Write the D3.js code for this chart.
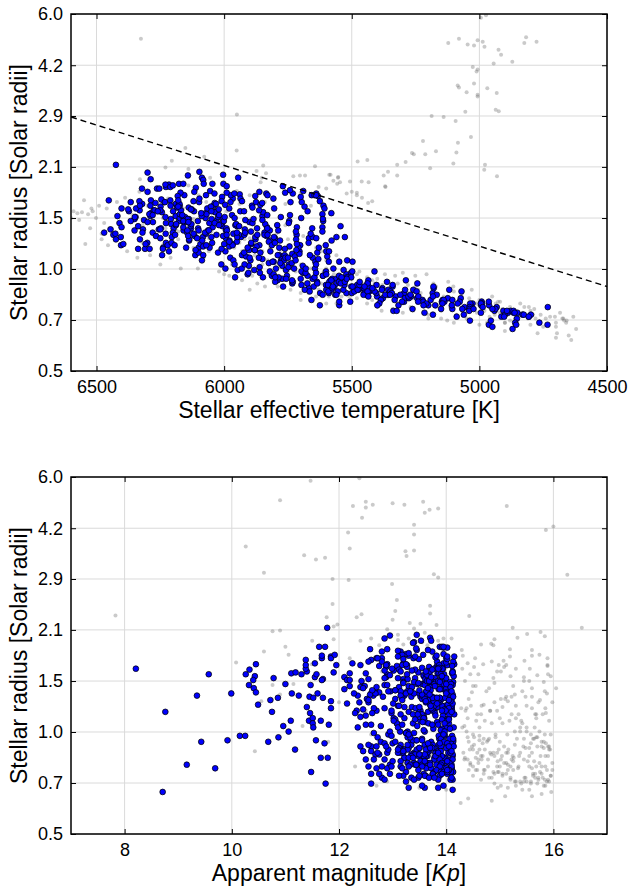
<!DOCTYPE html>
<html>
<head>
  <meta charset="utf-8">
  <style>
    html, body { margin: 0; overflow: hidden; background: #fff; }
    svg { display: block; }
    text { font-family: "Liberation Sans", Arial, Helvetica, sans-serif; fill: #000; }
    .grid line { stroke: #dadada; stroke-width: 1; }
    .gray circle { fill: #666; fill-opacity: 0.35; }
    .blue circle { fill: #0000ff; stroke: #000; stroke-width: 0.75; }
    .tick line { stroke: #000; stroke-width: 1; }
    .tick text { font-size: 18px; }
    .frame { fill: none; stroke: #000; stroke-width: 1.5; }
    .title { font-size: 23px; }
    .cut { fill: none; stroke: #000; stroke-width: 1.4; stroke-dasharray: 6,4; }
  </style>
  <script src="https://d3js.org/d3.v7.min.js"></script>
</head>
<body>
  <svg id="svg" width="629" height="886"></svg>
  <script>
    // [teff (K), radius (Rsun), Kp mag]
    var blueStars = [
      [6470,1.31,13.62],[6452,1.64,13.95],[6445,1.34,12.71],[6434,1.29,13.88],[6424,2.10,11.78],[6424,1.25,14.05],[6418,1.47,13.2],[6410,1.40,12.45],[6404,1.20,13.77],[6402,1.55,14.12],
      [6426,1.30,13.35],[6373,1.52,12.9],[6395,1.21,14.1],[6351,1.44,13.7],[6402,1.36,13.05],[6366,1.62,11.95],[6405,1.27,13.9],[6331,1.53,12.2],[6366,1.42,13.55],[6337,1.17,14.0],
      [6321,1.60,13.82],[6351,1.33,12.6],[6376,1.54,13.48],[6332,1.63,14.15],[6301,1.22,13.1],[6345,1.55,11.4],[6310,1.17,13.66],[6347,1.46,13.93],[6279,1.41,12.85],[6318,1.34,13.25],
      [6322,1.78,13.74],[6280,1.31,14.08],[6330,1.25,12.38],[6287,1.50,13.58],[6337,1.37,13.86],[6300,1.99,12.95],[6288,1.90,13.4],[6308,1.21,13.99],[6289,1.47,11.7],[6263,1.78,13.15],
      [6276,1.53,14.11],[6314,1.43,13.6],[6256,1.34,12.75],[6292,1.17,13.3],[6234,1.62,14.02],
      [6287,1.64,13.2],[6228,1.40,13.91],[6267,1.28,12.52],[6289,1.58,13.77],[6243,1.12,14.05],[6228,1.80,13.45],[6293,1.49,12.1],[6248,1.35,13.63],[6228,1.22,13.97],[6269,1.61,13.08],
      [6209,1.44,14.13],[6254,1.78,12.8],[6229,1.30,13.52],[6272,1.53,13.84],[6239,1.18,12.33],[6207,1.39,13.7],[6246,1.65,14.0],[6190,1.47,13.28],[6250,1.26,11.85],[6216,1.83,13.95],
      [6249,1.57,13.42],[6198,1.35,12.96],[6221,1.20,13.8],[6177,1.42,14.09],[6232,1.62,13.18],[6201,1.31,12.64],[6244,1.51,13.58],[6177,1.84,13.88],[6216,1.15,14.15],[6189,1.38,13.35],
      [6174,1.45,12.42],[6205,1.27,13.73],[6230,1.83,14.02],[6189,1.60,12.88],[6159,1.33,13.5],[6206,1.22,13.92],[6174,1.49,11.55],[6211,1.80,13.66],[6145,1.41,14.12],[6185,1.56,13.02],
      [6192,1.29,13.81],[6149,1.18,12.7],[6201,1.82,13.44],[6160,1.36,13.98],[6211,1.64,12.25],[6163,1.47,13.61],[6137,1.24,14.07],[6188,1.39,13.12],[6169,1.53,13.86],[6144,1.32,12.58],
      [6156,1.70,13.39],[6194,1.20,14.1],[6138,1.44,13.76],[6174,1.58,12.99],[6116,1.28,13.55],
      [6171,1.73,13.3],[6113,1.12,13.95],[6153,1.46,12.15],[6175,1.60,13.68],[6130,1.35,14.03],[6142,1.95,12.85],[6182,1.69,13.49],[6137,1.25,13.87],[6118,1.52,11.3],[6159,1.41,13.6],
      [6100,1.18,14.11],[6145,1.31,13.22],[6120,1.63,12.9],[6164,1.48,13.79],[6131,1.37,13.99],[6100,1.14,12.5],[6139,1.56,13.36],[6083,1.27,13.72],[6143,1.44,14.06],[6111,1.79,13.1],
      [6144,1.33,12.68],[6093,1.21,13.83],[6117,1.74,13.57],[6073,1.50,14.14],[6128,1.39,12.4],[6098,1.62,13.27],[6141,1.28,13.9],[6073,1.45,13.64],[6112,1.16,12.98],[6097,2.00,13.45],
      [6071,1.70,14.0],[6102,1.35,13.15],[6127,1.54,11.9],[6086,1.24,13.75],[6087,1.92,13.53],[6103,1.42,14.09],[6071,1.30,12.82],[6082,1.89,13.38],[6042,1.58,13.94],[6082,1.12,13.02],
      [6088,1.47,12.55],[6045,1.36,13.71],[6097,1.66,14.13],[6055,1.75,13.25],[6106,1.26,13.85],[6058,1.40,12.2],[6031,1.52,13.62],[6082,1.19,13.97],[6063,1.33,13.4],[6037,1.61,12.75],
      [6049,1.44,13.8],[6087,1.08,14.05],[6030,1.29,13.18],[6066,1.55,13.66],[6008,1.68,12.6],
      [6046,1.84,13.92],[6007,1.37,13.3],[6047,1.22,14.1],[6069,1.49,12.88],[6024,1.14,13.58],[6010,1.63,13.84],[6075,1.31,12.35],[6030,1.42,13.46],[6011,1.05,13.99],[6052,1.57,13.12],
      [5993,1.26,13.76],[6038,1.72,14.15],[6013,1.39,12.7],[6057,1.18,13.52],[6024,1.46,13.88],[5993,1.33,11.6],[6032,1.60,13.27],[5976,1.10,14.02],[6036,1.51,13.65],[6004,1.28,13.05],
      [6037,1.40,12.48],[6004,1.96,13.7],[6003,1.84,13.95],[5966,1.21,13.36],[6021,1.54,14.12],[5991,1.35,12.92],[5995,1.02,13.6],[5966,1.66,13.83],[6005,1.44,13.2],[5990,1.81,12.58],
      [5964,1.30,13.74],[5995,1.15,14.06],[6020,1.48,13.42],[5979,1.24,12.15],[5949,1.37,13.9],[5996,1.59,13.55],[5964,1.08,13.08],[6001,1.42,13.78],[5934,1.27,14.1],[5974,1.70,12.8],
      [5980,1.19,13.48],[5937,1.52,13.96],[5989,1.33,13.25],[5947,1.01,12.65],[5998,1.46,13.69],[5950,1.23,14.03],[5957,0.96,13.34],[5975,1.62,13.87],[5956,1.38,12.45],[5930,1.12,13.59],
      [5942,1.29,13.98],[5980,1.55,13.15],[5945,1.92,13.72],[5959,1.05,14.14],[5901,1.41,12.9],[5967,1.20,13.43],[5939,1.71,13.8],[5919,1.34,14.0],[5969,1.48,13.1],[5902,1.16,12.3],
      [5949,1.27,13.67],[5891,1.58,13.93],[5931,1.02,13.28],[5953,1.39,14.08],[5908,0.98,12.72],[5894,1.21,13.5],[5959,1.45,13.85],[5914,1.11,13.05],[5895,1.32,14.12],[5936,1.66,12.55],
      [5877,1.25,13.62],[5922,1.52,13.9],[5897,1.08,13.38],[5941,1.37,12.1],[5908,1.18,13.75],[5878,1.69,14.02],[5917,1.43,13.2],[5861,1.03,13.58],[5921,1.29,13.88],[5889,1.56,12.85],
      [5922,1.14,13.45],[5871,1.35,14.1],[5894,1.22,13.12],[5850,1.47,13.71],[5905,0.99,13.97],[5875,1.62,12.4],[5918,1.31,13.55],[5850,1.09,13.83],[5889,1.40,13.3],[5862,1.20,14.05],
      [5847,1.51,12.95],[5878,1.27,13.66],[5903,1.04,13.92],[5862,1.74,13.18],[5832,1.36,12.62],[5879,1.16,13.79],[5848,0.96,14.13],[5885,1.44,13.4],[5818,1.24,13.01],[5858,1.59,13.87],
      [5864,1.10,13.52],[5821,1.33,12.28],[5873,1.19,13.74],[5831,1.48,14.0],[5882,1.01,13.25],[5834,1.28,13.6],[5807,1.66,12.8],[5858,1.14,13.94],[5839,1.39,13.36],[5813,0.97,14.08],
      [5825,1.23,13.7],[5863,1.53,12.5],[5806,1.07,13.85],[5842,1.31,13.15],[5784,1.18,13.99],[5850,1.43,13.48],[5821,1.00,12.92],[5801,1.26,13.77],[5851,1.61,14.11],[5784,1.12,13.22],
      [5831,1.35,13.63],[5773,0.95,13.9],[5813,1.20,12.65],[5835,1.72,13.42],[5791,0.94,14.04],[5777,1.08,13.08],[5842,1.29,13.75],[5797,1.02,13.96],[5778,1.46,12.2],[5819,1.15,13.55],
      [5761,1.73,13.82],[5806,0.98,13.28],[5781,1.24,14.12],[5825,1.06,12.78],[5792,1.38,13.66],[5761,1.11,13.92],[5800,0.93,13.35],[5744,1.19,12.45],[5804,1.55,13.7],[5772,1.04,14.07],
      [5805,1.27,13.18],[5754,0.97,13.87],[5770,1.81,12.9],[5733,1.13,13.5],[5788,1.33,14.0],[5758,1.01,13.25],[5801,1.22,13.78],[5733,0.92,12.6],[5772,1.09,13.61],[5745,1.42,13.95],
      [5731,1.72,13.1],[5762,1.17,14.1],[5787,0.96,13.44],[5746,1.05,12.35],[5716,1.29,13.83],[5763,1.12,13.58],[5731,0.93,14.02],[5769,0.90,13.2],[5702,1.20,13.72],[5742,1.48,12.85],
      [5748,1.03,13.9],[5705,1.15,13.38],[5757,0.95,14.13],[5715,1.36,13.05],[5766,1.08,13.67],[5718,1.25,12.55],[5691,0.99,13.86],[5742,1.76,13.3],[5723,1.11,14.05],[5697,0.91,13.5],
      [5709,1.18,12.98],[5747,1.40,13.79],[5690,1.75,13.95],[5726,1.02,13.14],[5668,1.26,13.62],[5734,0.94,14.09],[5705,1.13,12.4],[5685,1.57,13.74],[5735,1.06,13.46],[5668,0.89,13.88],
      [5715,1.21,13.22],[5657,1.70,12.7],[5697,1.00,13.97],[5719,1.32,13.55],[5674,0.92,14.14],
      [5653,1.10,13.02],[5698,1.45,13.68],[5673,0.97,13.9],[5717,1.16,12.62],[5684,0.88,13.4],[5653,1.27,14.06],[5692,1.04,13.76],[5636,0.93,13.15],[5696,1.62,12.88],[5664,1.12,13.58],
      [5681,0.99,14.11],[5655,1.35,13.33],[5665,0.87,13.84],[5643,1.07,12.5],[5669,1.22,13.71],[5653,0.95,13.96],[5673,1.52,13.27],[5639,1.72,14.02],[5658,0.82,13.6],[5644,1.02,12.95],
      [5635,1.14,13.8],[5649,0.90,13.45],[5661,1.30,14.13],[5640,1.05,13.1],[5624,0.86,13.65],[5646,1.70,12.72],[5629,1.18,13.92],[5646,0.96,13.38],[5612,1.42,14.0],[5631,1.09,13.56],
      [5633,1.69,13.2],[5611,1.58,13.85],[5635,0.92,12.4],[5615,1.49,13.72],[5639,1.26,14.08],[5615,1.36,13.5],[5601,1.00,13.95],[5625,1.63,13.25],[5614,0.85,13.78],[5602,1.20,12.85],
      [5607,1.55,13.62],[5625,0.79,14.1],[5596,1.11,13.42],[5613,1.44,13.88],[5583,0.94,13.0],[5615,1.32,13.69],[5600,0.88,14.04],[5590,1.07,12.6],[5613,0.97,13.55],[5579,1.24,13.83],
      [5601,0.91,13.3],[5572,1.02,13.97],[5590,0.86,14.12],[5600,1.15,13.47],[5577,0.95,12.78],
      [5549,1.07,13.74],[5580,1.50,13.92],[5569,0.90,13.2],[5613,0.97,14.06],[5580,0.88,12.9],[5549,0.79,13.63],[5588,0.93,13.86],[5532,1.01,13.4],[5592,0.87,14.12],[5560,0.95,13.05],
      [5593,0.91,13.78],[5560,1.27,12.55],[5565,0.85,13.95],[5521,0.98,13.33],[5576,0.89,13.68],[5546,0.94,14.02],[5589,1.15,13.15],[5521,0.86,13.58],[5560,0.92,12.7],[5544,1.37,13.88],
      [5518,0.96,13.45],[5549,0.81,14.1],[5574,0.90,13.22],[5533,0.88,13.8],[5503,0.99,12.98],[5550,0.93,13.6],[5518,1.08,13.97],[5555,0.87,13.35],[5527,1.27,14.05],[5529,0.91,13.12],
      [5534,0.95,13.72],[5491,0.89,12.45],[5543,0.92,13.9],[5500,0.86,13.48],[5550,0.97,14.13],[5502,0.90,13.28],[5474,0.88,13.65],[5525,0.94,12.85],[5506,0.81,13.82],[5479,0.91,14.0],
      [5490,0.87,13.4],[5527,0.93,13.75],[5468,0.89,12.6],[5502,0.96,13.55],[5442,0.85,13.92],
      [5497,1.07,13.18],[5438,0.92,13.7],[5477,0.88,14.08],[5497,0.90,12.92],[5451,0.86,13.62],[5435,0.94,13.88],[5498,1.00,13.3],[5452,0.89,14.1],[5431,0.87,12.75],[5470,0.91,13.5],
      [5411,1.00,13.95],[5454,0.85,13.22],[5427,0.88,13.8],[5469,0.93,12.55],[5434,0.90,13.66],[5401,0.84,14.03],[5438,0.87,13.42],[5380,0.89,13.85],[5438,0.92,12.88],[5404,0.86,13.58],
      [5435,0.84,14.12],[5382,0.88,13.15],[5403,0.91,13.74],[5357,0.85,13.98],[5410,0.87,12.68],[5378,0.83,13.55],[5419,0.89,13.9],[5349,0.86,13.35],[5386,0.82,14.06],[5357,0.88,13.2],
      [5340,0.90,13.62],[5369,0.85,13.95],[5392,0.80,12.8],[5349,0.87,13.5],[5317,0.79,14.1],[5362,0.93,13.28],[5328,0.84,13.78],[5337,0.76,12.6],[5295,0.86,13.92],[5332,0.82,13.4],
      [5324,0.76,14.02],[5291,0.88,13.1],[5340,0.91,13.7],[5295,0.81,12.95],[5343,0.86,13.85],[5292,0.83,13.52],[5262,0.77,14.13],[5310,0.85,13.22],[5288,0.94,13.66],[5259,0.88,12.72],
      [5268,0.84,13.88],[5303,0.81,13.45],[5243,0.92,14.05],[5276,0.83,13.15],[5215,0.75,13.75],[5278,0.84,12.5],[5246,0.87,13.6],[5223,0.82,13.97],[5270,0.85,13.3],[5200,0.79,14.08],
      [5244,0.83,13.0],[5183,0.86,13.8],[5220,0.81,13.55],[5239,0.84,12.85],[5191,0.82,13.92],
      [5167,0.85,13.38],[5208,0.80,14.1],[5179,0.89,13.2],[5219,0.79,13.72],[5182,0.84,12.65],[5147,0.81,13.9],[5182,0.74,13.48],[5124,0.83,14.02],[5180,0.90,13.1],[5144,0.82,13.65],
      [5173,0.79,12.9],[5118,0.88,13.85],[5137,0.81,13.42],[5089,0.73,14.12],[5140,0.82,13.28],[5106,0.77,13.78],[5145,0.80,12.55],[5073,0.83,13.6],[5108,0.79,13.95],[5077,0.81,13.33],
      [5058,0.78,14.06],[5085,0.80,13.15],[5106,0.82,13.7],[5061,0.74,12.8],[5027,0.80,13.88],[5070,0.87,13.5],[5034,0.79,14.0],[5067,0.77,13.25],[5037,0.71,11.75],[5036,0.80,12.98],
      [5038,0.78,13.82],[4991,0.81,13.44],[5039,0.77,14.09],[4993,0.79,13.18],[5040,0.76,13.75],
      [4989,0.80,13.55],[5023,0.77,13.9],[4962,0.79,12.7],[4994,0.75,13.62],[4932,0.78,14.05],[4994,0.80,13.3],[4963,0.69,13.85],[4941,0.76,12.95],[4987,0.78,13.48],[4949,0.68,14.12],
      [4963,0.81,13.7],[4901,0.75,13.2],[4937,0.77,13.95],[4955,0.71,12.6],[4906,0.76,13.58],[4888,0.75,13.88],[4949,0.77,14.02],[4900,0.74,13.35],[4877,0.76,13.75],[4914,0.73,12.85],
      [4851,0.75,13.6],[4892,0.76,13.92],[4870,0.67,8.71],[4903,0.73,14.08],[4866,0.75,13.12],[4831,0.74,13.68],[4866,0.76,12.75],[4806,0.73,13.85],[4862,0.75,13.5],[4826,0.74,14.1],
      [4853,0.72,13.25],[4798,0.74,13.78],[4807,0.73,13.4],[4765,0.70,13.95],[4733,0.69,13.6],[4732,0.78,14.02],[4860,0.70,13.55],[4856,0.69,13.3],
      // the bright end of the magnitude panel
      [6330,1.58,8.21],[6240,1.17,8.76],[5240,0.81,9.16],[6320,1.31,9.35],[5700,0.95,9.43],[6200,1.52,9.57],[5400,0.79,9.69],[5800,0.96,9.92],[6100,1.33,9.99],[5640,0.99,10.15],
      [5860,0.99,10.25],[5520,0.95,10.68],[6050,1.27,10.72],[6010,1.17,10.75],[6280,1.48,10.78],[5990,1.29,10.86],[5600,0.98,10.87],[5780,1.06,10.96],[6160,1.42,11.0],[5680,1.02,11.06],
      [5900,1.10,11.1],[6250,1.53,11.11],[6060,1.33,11.12],[5450,0.90,11.18],[6130,1.54,11.19],[5950,1.31,11.25],[5700,1.68,11.38],[6210,1.58,11.38],[6000,1.21,11.4],[5760,1.10,11.44],
      [6120,1.30,11.45],[5880,1.16,11.46],[6300,1.41,11.47],[5150,0.77,11.48],[5830,1.29,11.52],[5790,1.12,11.51],[5720,1.08,11.51],[5920,1.05,11.52],[6180,1.64,11.55],[5540,0.96,11.57],
      [6050,1.52,11.58],[5750,1.10,11.66],[5560,0.85,11.66],[6230,1.46,11.68],[5870,1.29,11.7],[5640,1.70,11.68],[5580,0.94,11.73],[5350,0.85,11.79],[5810,1.07,11.81],[5960,1.72,11.85],
      [6070,1.20,11.85],[6260,1.52,10.26],[6180,1.57,10.33],[5930,1.63,10.45],[6090,1.50,10.43],[6350,1.46,10.4],[6140,1.41,10.32],[6020,1.38,10.41],[6250,1.34,10.45],[5980,1.23,10.49],
      [6160,1.84,11.63],[6080,1.84,11.74],[5990,1.73,11.68],[5830,1.70,11.85],[6300,1.74,11.92],[5740,1.62,11.38]
    ];

    // evolved stars and the upper rim above the cut
    var grayGiants = [
      [4974,5.95,12.38],[4994,5.85,11.47],[4817,5.10,10.9],[5080,5.05,13.57],[6326,5.05,12.5],[5007,5.00,13.0],[4987,4.95,12.63],[4776,4.95,13.22],[5122,4.90,12.26],[4824,4.90,15.13],
      [5046,4.85,12.5],[5021,4.82,13.85],[4980,4.78,13.69],[4925,4.68,13.6],[4915,4.52,12.43],[4871,4.30,13.4],[4944,4.25,16.0],[5026,4.15,15.86],[5007,4.08,12.17],[5011,4.02,13.4],
      [5021,3.70,10.26],[5085,3.65,12.2],[5080,3.60,13.4],[4969,3.58,13.24],[5050,3.48,11.35],[4932,3.46,13.26],[5007,3.42,11.74],[5007,3.38,11.57],[4936,3.08,10.6],[4924,3.05,13.77],
      [5055,3.04,16.26],[5950,2.98,13.85],[5187,2.95,11.88],[5140,2.93,12.18],[5093,2.85,12.99],[5033,2.55,13.08],[5221,2.48,11.88],[5084,2.45,13.7],[6152,2.36,13.05],[5951,2.32,13.7],
      [5170,2.31,12.42],[5090,2.29,7.83],[5264,2.28,14.43],[5257,2.26,11.77],[5212,2.26,12.33],[6078,2.22,13.0],[5439,2.17,13.32],[6205,2.16,13.52],[5477,2.15,11.97],[5289,2.14,13.82],
      [5102,2.12,11.9],[4978,2.10,16.53],[5322,2.10,15.24],[6230,2.06,10.9],[5193,2.05,10.76],[6140,2.04,15.76],[4981,2.03,13.6],[5358,2.00,13.1],
      [5847,2.09,13.4],[5644,2.08,12.9],[5873,2.01,15.51],[5836,1.98,15.84],[5588,1.96,15.33],[5583,1.96,13.7],[5729,1.94,11.9],[5703,1.95,12.6],[5683,1.95,13.95],[5375,1.95,14.1],
      [5322,1.95,13.3],[4931,1.94,14.9],[5553,1.93,13.1],[6055,1.92,12.4],[5853,1.92,13.85],[5554,1.92,11.5],[6330,1.90,13.55],[5572,1.88,14.84],[5507,1.87,14.65],[5461,1.87,13.2],
      [5546,1.86,12.75],[5434,1.86,13.65],[5857,1.86,14.88],[5557,1.84,11.0],[6140,1.82,13.9],[5369,1.81,15.19],[5630,1.80,14.29],[5368,1.80,15.6],[6332,1.74,11.06],[5500,1.74,15.74],
      [5480,1.70,14.54],[5460,1.67,15.07],[6388,1.67,15.46],[5436,1.61,15.89],[5600,1.78,10.6],[5620,1.65,10.08],[5700,1.73,14.31],[5760,1.60,14.52],[5420,1.63,14.69],[5940,1.60,15.08],
      [5520,1.72,15.19],[5480,1.73,15.6],[5660,1.58,15.56],[5840,1.62,15.89],[5900,1.70,15.89]
    ];

    // dwarfs fainter than the magnitude limit
    var grayFaint = [
      [6590,1.52,14.6],[6575,1.50,15.2],[6568,1.43,14.9],[6557,1.51,15.7],[6549,1.64,14.4],[6544,1.21,15.05],[6533,1.49,15.45],[6525,1.35,14.75],[6515,1.52,15.9],[6502,1.45,14.35],
      [6490,1.58,15.3],[6480,1.30,15.6],[6470,1.40,14.5],[6455,1.20,15.85],[6460,1.55,14.95],
      [6420,1.62,15.12],[6400,1.28,14.42],[6380,1.15,15.66],[6360,1.48,14.88],[6340,1.10,15.4],[6320,1.38,16.05],[6300,1.58,14.3],[6290,1.12,15.0],[6270,1.27,15.75],[6250,1.05,14.62],
      [6240,1.45,15.55],[6220,1.66,14.85],[6210,1.10,15.92],[6190,1.34,14.48],[6170,1.02,15.28],[6160,1.55,15.02],[6140,1.23,14.7],[6120,1.44,15.82],[6103,1.02,14.38],[6090,1.30,15.48],
      [6070,1.62,14.98],[6060,1.15,15.35],[6040,1.40,14.55],[6020,1.00,15.95],[6010,1.28,15.1],[5990,1.52,14.45],[5980,0.97,15.62],[5960,1.18,14.82],[5950,1.40,15.25],[5930,0.94,14.68],
      [5920,1.25,15.72],[5900,1.06,14.34],[5880,1.45,15.45],[5870,0.92,15.08],[5850,1.15,14.58],[5840,1.33,15.88],[5820,0.98,14.92],[5800,1.22,15.3],[5790,0.90,14.5],[5770,1.05,15.65],
      [5760,1.38,14.8],[5740,0.88,15.15],[5720,1.12,14.4],[5700,0.95,15.78],[5690,1.28,15.02],[5670,0.86,14.65],[5660,1.02,15.5],[5640,1.18,14.36],[5620,0.92,15.9],[5600,1.08,14.85],
      [5590,0.84,15.22],[5570,0.98,14.52],[5560,1.12,15.68],[5540,0.88,14.95],[5530,1.02,15.38],[5510,0.84,14.6],[5500,0.95,15.82],[5480,0.90,14.44],[5470,1.00,15.14],
      [5450,0.86,15.55],[5440,0.96,14.78],[5420,0.82,15.98],[5410,0.92,14.48],[5390,0.85,15.26],[5383,0.76,14.9],[5370,0.98,15.7],[5350,0.88,14.32],[5330,0.97,15.45],[5320,0.80,15.0],
      [5300,0.99,14.62],[5290,0.86,15.85],[5270,0.78,14.58],[5251,0.97,15.32],[5240,0.88,14.88],[5220,0.75,15.62],[5207,0.98,14.4],[5190,0.82,15.12],[5170,0.90,15.92],[5150,0.76,14.7],
      [5126,0.71,15.4],[5122,0.93,14.52],[5110,0.80,15.78],[5102,0.90,14.98],[5090,0.74,15.2],[5070,0.85,14.35],[5050,0.72,15.58],[5030,0.88,14.82],[5010,0.75,15.95],[4990,0.82,14.6],
      [4970,0.70,15.3],[4950,0.84,15.02],[4936,0.80,15.68],[4927,0.81,14.45],[4919,0.81,15.15],[4900,0.70,15.85],[4880,0.78,14.72],[4860,0.72,15.5],[4840,0.80,14.95],[4824,0.78,15.25],
      [4806,0.78,14.55],[4785,0.77,15.75],[4772,0.65,15.1],[4760,0.74,14.85],[4740,0.72,15.45],[4723,0.73,15.9],[4704,0.73,14.65],[4696,0.65,15.6],[4684,0.75,15.05],[4675,0.72,15.88],
      [4671,0.72,15.38],[4668,0.71,14.9],[4658,0.71,15.7],[4632,0.73,15.2],[4621,0.67,15.96],[4650,0.64,14.41],[4640,0.62,14.27],[4700,0.63,14.85],
      [6050,1.20,14.28],[5980,1.10,15.18],[5930,1.15,14.65],[5880,1.00,15.58],[5860,1.20,14.38],[5830,1.08,15.42],[5810,0.95,14.76],[5780,1.16,15.86],[5750,1.00,14.92],[5730,0.93,15.28],
      [5710,1.22,14.46],[5680,0.97,15.64],[5650,1.10,14.72],[5630,0.88,15.12],[5610,1.00,14.5],[5580,0.90,15.94],[5560,0.86,15.04],[5550,0.95,14.42],[5520,0.91,15.55],[5490,0.87,14.84],
      [5460,0.92,15.7],[5430,0.88,14.58],[5400,0.86,15.36],[5380,0.91,15.82],[5360,0.84,14.66],[5340,0.90,15.16],[5310,0.84,14.34],[5280,0.91,15.48],[5260,0.83,14.96],[5230,0.86,15.76],
      [5200,0.80,14.5],[5180,0.86,15.24],[5160,0.79,15.6],[5140,0.84,14.78],[5115,0.78,15.98],[5080,0.82,15.08],[5060,0.78,14.42],[5040,0.83,15.52],[5020,0.77,14.88],[5000,0.79,15.34],
      [4980,0.76,15.78],[4960,0.78,14.7],[4940,0.74,15.46],[4910,0.77,14.96],[4890,0.74,15.66],[4870,0.76,15.12],[4850,0.73,15.84],[4830,0.75,14.5],[4810,0.72,15.3],[4790,0.74,15.72],
      [6230,1.35,15.42],[6180,1.25,14.9],[6130,1.38,15.6],[6080,1.10,14.56],[6000,1.35,15.84],[5970,1.05,14.3],[5910,1.30,15.12],[5890,0.97,14.8],[5850,1.05,15.5],[5795,1.30,15.22],
      [6320,1.22,14.66],[6260,1.50,15.95],[5750,1.25,15.98],[5700,1.05,15.38],[5620,1.15,15.8],[5530,0.97,14.7],[5440,0.80,15.2],[5330,0.83,15.64],[5250,0.90,14.62],[5180,0.92,15.44],
      [5050,0.76,15.62],[5010,0.80,15.85],[4960,0.73,15.72],[4920,0.75,15.95],[4880,0.71,15.58],[4840,0.74,15.8],[4800,0.76,15.66],[4780,0.72,15.92],[5120,0.82,15.74],[5170,0.78,15.88],
      [5220,0.80,15.55],[5280,0.86,15.9],[5320,0.92,15.78],[5360,0.88,15.6],[5420,0.94,15.86],[5480,0.98,15.68],[5540,0.92,15.92],[5600,1.02,15.74],[5660,0.94,15.58],[5720,1.00,15.84],
      [5640,0.84,15.45],[5560,0.80,15.35],[5480,0.83,15.25],[5400,0.78,15.15],[5340,0.77,14.98],[5260,0.76,15.05],[5200,0.74,15.48],[5150,0.72,15.28],[5100,0.70,15.02],[5060,0.74,14.8],
      [5700,1.15,15.22],[5760,1.08,15.05],[5820,1.18,14.95],[5880,1.12,15.3],[5940,1.22,15.5],[6000,1.15,15.68],[6060,1.26,15.15],[6120,1.18,14.82],[6180,1.32,15.28],[6240,1.20,15.6],
      [5780,0.96,14.62],[5840,0.90,14.72],[5900,0.88,15.38],[5960,0.95,15.0],[5700,0.86,14.9],[5620,0.85,14.55],[5540,0.84,14.4],[5460,0.86,14.68],[5380,0.82,14.45],[5300,0.80,14.78],
      [4950,0.68,15.42],[4900,0.66,15.78],[4850,0.69,14.96],[4700,0.68,15.55],[4660,0.70,15.82],[5000,0.69,15.15]
    ];

    // bright dwarfs left out of the sample
    var grayField = [
      [6150,1.41,10.76],[6050,1.32,10.9],[5900,1.26,10.55],[6200,1.42,11.15],[5800,1.06,11.32],[5500,0.95,11.8],[5560,0.89,10.43],[6280,1.63,11.49],[5900,1.00,12.6],[5600,0.80,12.3],
      [5200,0.72,12.9],[5000,0.82,13.2],[4900,0.70,12.7],[4800,0.69,13.5],[4700,0.70,13.9],[4750,0.68,14.0],[5100,0.87,13.7],[5400,0.95,13.4],[5700,0.82,13.8],[6000,0.98,13.0],
      [6300,1.18,12.5],[6450,1.35,13.6],[6520,1.55,12.8],[6600,1.45,13.3],[6100,1.70,12.2],[5950,1.75,13.75],[6480,1.25,12.0],[5300,0.75,13.1]
    ];

    var grayStars = grayGiants.concat(grayFaint, grayField);

    var radiusTicks = [0.5, 0.713, 1.017, 1.45, 2.07, 2.95, 4.2, 6.0];
    var radiusLabels = ["0.5", "0.7", "1.0", "1.5", "2.1", "2.9", "4.2", "6.0"];
    var teffTicks = [6500, 6000, 5500, 5000, 4500];
    var kpTicks = [8, 10, 12, 14, 16];
    // dashed cut in the temperature panel: [teff, radius] end points
    var cutLine = [[6600, 2.93], [4500, 0.90]];

    var LEFT = 71, RIGHT = 607;
    var svg = d3.select("#svg");

    function drawPanel(opt) {
      var x = d3.scaleLinear().domain(opt.xDomain).range([LEFT, RIGHT]);
      var y = d3.scaleLog().domain([0.5, 6]).range([opt.bottom, opt.top]);
      var g = svg.append("g");

      svg.append("clipPath").attr("id", "clip" + opt.id)
        .append("rect")
        .attr("x", LEFT).attr("y", opt.top)
        .attr("width", RIGHT - LEFT).attr("height", opt.bottom - opt.top);

      var grid = g.append("g").attr("class", "grid");
      grid.selectAll(".gx").data(opt.xTicks).enter().append("line")
        .attr("class", "gx")
        .attr("x1", function(d){ return x(d); }).attr("x2", function(d){ return x(d); })
        .attr("y1", opt.top).attr("y2", opt.bottom);
      grid.selectAll(".gy").data(radiusTicks).enter().append("line")
        .attr("class", "gy")
        .attr("x1", LEFT).attr("x2", RIGHT)
        .attr("y1", function(d){ return y(d); }).attr("y2", function(d){ return y(d); });

      var pts = g.append("g").attr("clip-path", "url(#clip" + opt.id + ")");
      pts.append("g").attr("class", "gray")
        .selectAll("circle").data(grayStars).enter().append("circle")
        .attr("cx", function(d){ return x(d[opt.col]); })
        .attr("cy", function(d){ return y(d[1]); })
        .attr("r", 2);
      pts.append("g").attr("class", "blue")
        .selectAll("circle").data(blueStars).enter().append("circle")
        .attr("cx", function(d){ return x(d[opt.col]); })
        .attr("cy", function(d){ return y(d[1]); })
        .attr("r", 2.85);

      if (opt.cut) {
        pts.append("path")
          .attr("class", "cut")
          .attr("d", d3.line()
            .x(function(d){ return x(d[0]); })
            .y(function(d){ return y(d[1]); })(opt.cut));
      }

      function noDomain(a){ a.select(".domain").remove(); }

      g.append("g").attr("transform", "translate(0," + opt.bottom + ")")
        .call(d3.axisBottom(x).tickValues(opt.xTicks).tickSize(-5).tickPadding(9).tickFormat(d3.format("d")))
        .call(noDomain);
      g.append("g").attr("transform", "translate(0," + opt.top + ")")
        .call(d3.axisTop(x).tickValues(opt.xTicks).tickSize(-5).tickFormat(""))
        .call(noDomain);
      g.append("g").attr("transform", "translate(" + LEFT + ",0)")
        .call(d3.axisLeft(y).tickValues(radiusTicks).tickSize(-5).tickPadding(8)
          .tickFormat(function(d, i){ return radiusLabels[i]; }))
        .call(noDomain);
      g.append("g").attr("transform", "translate(" + RIGHT + ",0)")
        .call(d3.axisRight(y).tickValues(radiusTicks).tickSize(-5).tickFormat(""))
        .call(noDomain);

      g.append("rect").attr("class", "frame")
        .attr("x", LEFT).attr("y", opt.top)
        .attr("width", RIGHT - LEFT).attr("height", opt.bottom - opt.top);

      var xt = g.append("text").attr("class", "title")
        .attr("x", (LEFT + RIGHT) / 2).attr("y", opt.bottom + 47)
        .attr("text-anchor", "middle");
      opt.xTitle.forEach(function(p){
        xt.append("tspan").attr("font-style", p[1] ? "italic" : null).text(p[0]);
      });

      g.append("text").attr("class", "title")
        .attr("transform", "translate(27," + ((opt.top + opt.bottom) / 2) + ") rotate(-90)")
        .attr("text-anchor", "middle")
        .text("Stellar radius [Solar radii]");
    }

    drawPanel({
      id: "teff", col: 0, top: 14, bottom: 371,
      xDomain: [6600, 4500], xTicks: teffTicks, cut: cutLine,
      xTitle: [["Stellar effective temperature [K]", false]]
    });
    drawPanel({
      id: "kp", col: 2, top: 477, bottom: 834,
      xDomain: [7, 17], xTicks: kpTicks, cut: null,
      xTitle: [["Apparent magnitude [", false], ["Kp", true], ["]", false]]
    });
  </script>
</body>
</html>
